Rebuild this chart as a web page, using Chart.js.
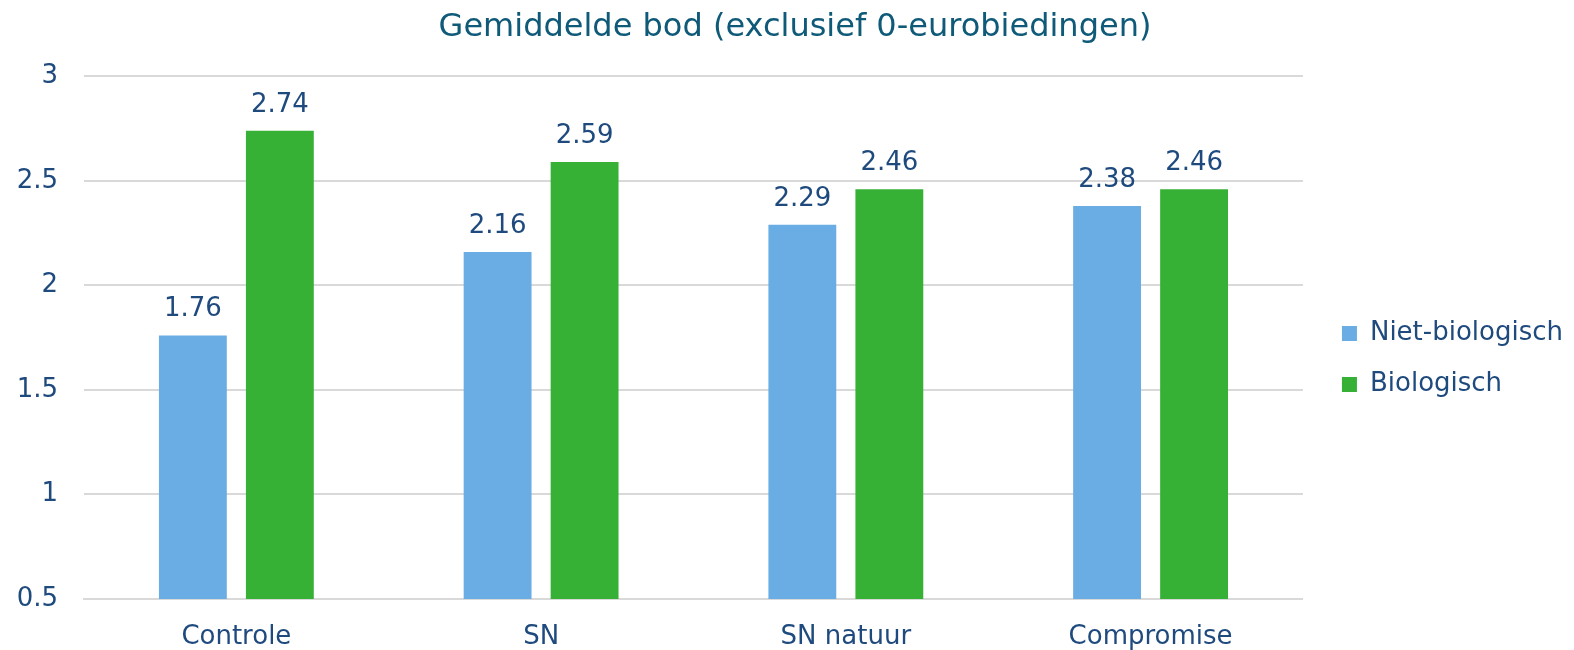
<!DOCTYPE html>
<html>
<head>
<meta charset="utf-8">
<script src="https://cdn.jsdelivr.net/npm/chart.js@4"></script>
<style>
  html, body { margin: 0; padding: 0; background: #fff; }
  #wrap { width: 1574px; height: 650px; }
</style>
</head>
<body>
<div id="wrap"><canvas id="chart"></canvas></div>
<script>
const categories = ['Controle', 'SN', 'SN natuur', 'Compromise'];
const nietBiologisch = [1.76, 2.16, 2.29, 2.38];
const biologisch = [2.74, 2.59, 2.46, 2.46];
const seriesNames = ['Niet-biologisch', 'Biologisch'];
const yTicks = [0.5, 1, 1.5, 2, 2.5, 3];

const textColor = '#1F4A7E';
const font = 'DejaVu Sans, Verdana, sans-serif';

// draws the value above each bar
const valueLabels = {
    id: 'valueLabels',
    afterDatasetsDraw(chart) {
        const ctx = chart.ctx;
        ctx.save();
        ctx.fillStyle = textColor;
        ctx.font = '26px ' + font;
        ctx.textAlign = 'center';
        ctx.textBaseline = 'middle';
        chart.data.datasets.forEach((ds, i) => {
            chart.getDatasetMeta(i).data.forEach((bar, j) => {
                ctx.fillText(ds.data[j].toFixed(2), bar.x, bar.y - 26);
            });
        });
        ctx.restore();
    }
};

new Chart(document.getElementById('chart'), {
    type: 'bar',
    data: {
        labels: categories,
        datasets: [
            { label: seriesNames[0], data: nietBiologisch, backgroundColor: '#6AADE4' },
            { label: seriesNames[1], data: biologisch, backgroundColor: '#36B136' },
        ]
    },
    options: {
        responsive: true,
        maintainAspectRatio: false,
        animation: false,
        layout: { padding: { left: 17, right: 1, top: 8, bottom: 0 } },
        datasets: {
            bar: { categoryPercentage: 0.571, barPercentage: 0.78 }
        },
        plugins: {
            title: {
                display: true,
                text: 'Gemiddelde bod (exclusief 0-eurobiedingen)',
                color: '#0E5A78',
                font: { family: font, size: 32, weight: 'normal' },
                padding: { top: 0, bottom: 30 }
            },
            legend: {
                position: 'right',
                // empty title only pushes the items down a bit
                title: { display: true, text: ' ', font: { size: 10 }, padding: { top: 24, bottom: 24 } },
                labels: {
                    color: textColor,
                    font: { family: font, size: 26 },
                    boxWidth: 15,
                    boxHeight: 15,
                    padding: 25
                }
            },
            tooltip: { enabled: false }
        },
        scales: {
            x: {
                grid: { display: false },
                border: { color: '#D9D9D9', width: 2 },
                ticks: { color: textColor, font: { family: font, size: 26 }, padding: 15 },
                afterFit(scale) { scale.height = 51; }
            },
            y: {
                min: 0.5,
                max: 3,
                afterBuildTicks(axis) {
                    axis.ticks = yTicks.map(v => ({ value: v }));
                },
                grid: { color: '#D9D9D9', lineWidth: 2, drawTicks: false },
                border: { display: false },
                ticks: {
                    color: textColor,
                    font: { family: font, size: 26 },
                    padding: 26,
                    callback: v => String(v)
                },
                afterFit(scale) { scale.width = 67; }
            },
            // blank spacer between plot and legend
            gap: {
                type: 'linear',
                position: 'right',
                grid: { display: false },
                border: { display: false },
                ticks: { display: false },
                afterFit(scale) { scale.width = 14; }
            }
        }
    },
    plugins: [valueLabels]
});
</script>
</body>
</html>
